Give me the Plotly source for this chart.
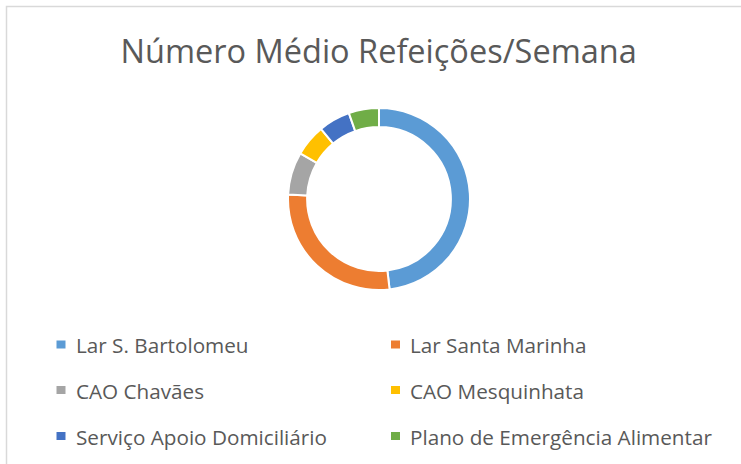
import plotly.graph_objects as go

# Data
categories = ["Lar S. Bartolomeu", "Lar Santa Marinha", "CAO Chavães",
              "CAO Mesquinhata", "Serviço Apoio Domiciliário",
              "Plano de Emergência Alimentar"]
values = [350, 201, 55, 41, 41, 39]
colors = ["#5B9BD5", "#ED7D31", "#A5A5A5", "#FFC000", "#4472C4", "#70AD47"]
title_text = "Número Médio Refeições/Semana"

W, H = 741, 464
cx, cy, r = 379, 199, 91

fig = go.Figure(go.Pie(
    labels=categories, values=values, hole=0.79, sort=False,
    direction="clockwise", rotation=0,
    marker=dict(colors=colors, line=dict(color="white", width=2)),
    textinfo="none", hoverinfo="label+value+percent", showlegend=False,
    domain=dict(x=[(cx - r) / W, (cx + r) / W],
                y=[1 - (cy + r) / H, 1 - (cy - r) / H]),
))

# Manual legend (two columns)
col_x = [56.5, 391]
row_y = [344.5, 390, 436]
sqw, sqh = 9, 8
shapes = []
annotations = []
for i, (lab, colr) in enumerate(zip(categories, colors)):
    x = col_x[i % 2]
    y = row_y[i // 2]
    shapes.append(dict(type="rect", xref="paper", yref="paper",
                       x0=x / W, x1=(x + sqw) / W,
                       y0=1 - (y + sqh / 2) / H, y1=1 - (y - sqh / 2) / H,
                       fillcolor=colr, line=dict(width=0)))
    annotations.append(dict(text=lab, xref="paper", yref="paper",
                            x=(x + 17) / W, y=1 - (y + 0.5) / H,
                            xanchor="left", yanchor="middle", showarrow=False,
                            font=dict(family="Open Sans", size=20.7, color="#595959")))

# chart border
shapes.append(dict(type="rect", xref="paper", yref="paper",
                   x0=6.5 / W, x1=1.05, y0=-0.05, y1=1 - 6.5 / H,
                   line=dict(color="#D9D9D9", width=1.5), fillcolor="rgba(0,0,0,0)"))

fig.update_layout(
    width=W, height=H,
    margin=dict(l=0, r=0, t=0, b=0),
    paper_bgcolor="white", plot_bgcolor="white",
    title=dict(text=title_text, x=0.511, xanchor="center", y=1 - 52 / H, yanchor="middle",
               font=dict(family="Open Sans", size=32.5, color="#595959")),
    shapes=shapes, annotations=annotations,
)

fig.write_html("out.html", config={"displayModeBar": False},
               post_script="document.body.style.margin='0';")
